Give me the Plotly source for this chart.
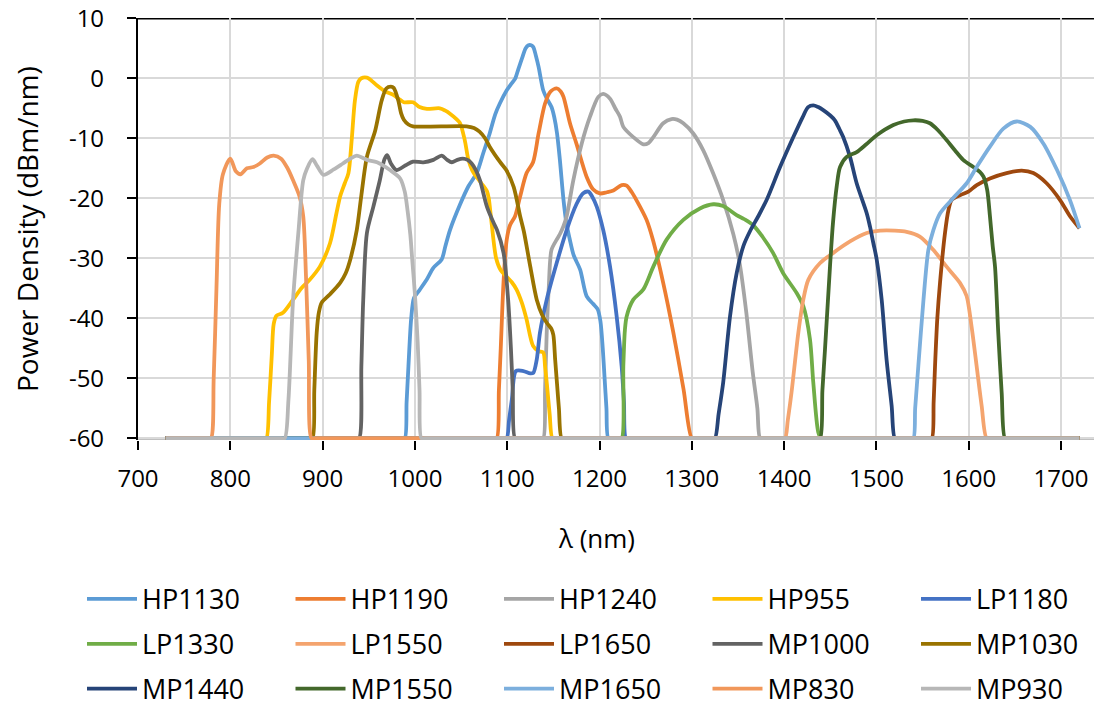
import plotly.graph_objects as go

names = ["HP1130", "HP1190", "HP1240", "HP955", "LP1180",
         "LP1330", "LP1550", "LP1650", "MP1000", "MP1030",
         "MP1440", "MP1550", "MP1650", "MP830", "MP930"]

colors = ["#5B9BD5", "#ED7D31", "#A5A5A5", "#FFC000", "#4472C4",
          "#70AD47", "#F4A46E", "#9E480E", "#636363", "#997300",
          "#264478", "#43682B", "#7CAFDD", "#F1975A", "#B7B7B7"]

# wavelength (nm) / power density (dBm/nm) per filter
hp1130_wl = [730, 985, 989, 991, 993, 996, 999, 1005, 1013, 1020, 1029, 1033, 1038, 1049, 1058, 1067, 1074, 1081, 1087, 1092,
             1099.5, 1104, 1108.5, 1112, 1116, 1120, 1123, 1126, 1128.3, 1131, 1134, 1139, 1143, 1148, 1151, 1154, 1157,
             1161, 1164, 1168, 1172, 1179, 1186, 1193, 1198, 1201, 1203.5, 1205.5, 1207.5, 1209.6, 1214, 1720]
hp1130_db = [-60, -60, -60, -54, -48, -40, -36.6, -35.3, -33.5, -31.6, -30.2, -28, -25.3, -21, -18, -15.8, -12.5, -9.2, -6, -4.2,
             -2.0, -1, -0.1, 1.5, 3.3, 5, 5.5, 5.5, 5.2, 3.8, 1.9, -2, -3.4, -4.8, -6.5, -9.2, -13.5,
             -20.3, -24, -27, -29.5, -31.9, -36.3, -37.6, -38.5, -40.5, -45, -50, -55, -60, -60, -60]

hp1190_wl = [730, 1084, 1088.6, 1091, 1093, 1096, 1099.4, 1103, 1108.5, 1114, 1121, 1128, 1134, 1141, 1147, 1153.6, 1158, 1161,
             1168, 1175, 1186, 1193, 1200.5, 1208, 1215, 1224, 1229.4, 1235, 1240, 1251, 1258, 1269, 1280, 1291, 1300, 1304, 1720]
hp1190_db = [-60, -60, -60, -52, -45, -34, -27, -24.5, -23, -19.7, -15.8, -14, -9.2, -4.2, -2.2, -1.7, -2.2, -3.1,
             -7.5, -10.9, -16.4, -18.5, -19.2, -19.0, -18.7, -17.8, -17.9, -19.0, -20.3, -23.6, -27, -34.1, -42.4, -51.8, -60, -60, -60]

hp1240_wl = [730, 1135, 1139, 1141, 1142.8, 1145, 1148, 1153.6, 1157, 1160.8, 1164.4, 1171.6, 1180.7, 1189.7, 1198.7, 1204,
             1211.4, 1217, 1222.2, 1225.8, 1236.6, 1247.5, 1253, 1258.3, 1269, 1278, 1284, 1290.8, 1301.6, 1312.4,
             1323, 1334, 1345, 1352, 1359, 1366, 1371, 1374, 1378, 1720]
hp1240_db = [-60, -60, -60, -52, -42.4, -35, -28.6, -26.9, -26, -24.7, -23, -17, -10.9, -6.4, -3.1, -2.6,
             -3.4, -5, -6.4, -8.1, -9.8, -11, -10.8, -9.8, -7.5, -6.8, -6.9, -7.5, -9.2, -12,
             -15.8, -20.3, -26, -31, -39, -49, -55, -60, -60, -60]

hp955_wl = [730, 835, 839, 842, 845, 847, 850, 857, 868, 877, 886, 897, 908, 915, 919, 924, 928, 931.5, 935, 938.7, 942, 948,
            953, 959, 968, 977, 984, 988, 998, 1005, 1013, 1027, 1033, 1038, 1045, 1049, 1054, 1058, 1062, 1067, 1072,
            1078, 1080, 1083, 1088, 1093, 1099, 1105, 1110, 1116, 1121, 1128, 1134, 1139, 1141, 1143, 1146, 1149, 1153, 1720]
hp955_db = [-60, -60, -60, -54, -46, -41, -39.6, -39.1, -36.9, -35, -33.6, -31.4, -27.5, -22.5, -19.7, -17.5, -15.8, -10.3, -3.7,
            -0.6, 0, 0.1, -0.4, -1.2, -2.2, -2.8, -3.6, -4.0, -4.0, -4.8, -5.1, -5.0, -5.4, -5.9, -6.8, -7.5, -10.3,
            -13.6, -15.3, -16.5, -17.5, -18.8, -20, -24, -30, -32, -33, -34, -35.2, -37.5, -40.2, -44.6, -45.5, -45.7,
            -48, -51, -56, -60, -60, -60]

lp1180_wl = [730, 1095, 1099.4, 1102, 1105, 1109.5, 1117.5, 1125, 1128.3, 1132, 1135.5, 1142.8, 1153.6, 1164.4, 1175, 1182,
             1188, 1192, 1197, 1204, 1211.4, 1218.6, 1224, 1226.5, 1228.7, 1233, 1720]
lp1180_db = [-60, -60, -60, -57, -53.6, -48.8, -48.8, -49.2, -49.1, -46.9, -42.4, -36.9, -30.8, -25.3, -21, -19.2,
             -18.9, -19.7, -21.4, -25.3, -31.4, -39.7, -48, -54, -60, -60, -60]

lp1330_wl = [730, 1220, 1224, 1225.8, 1227.5, 1229.4, 1236.6, 1247.5, 1258.3, 1272.7, 1290.8, 1308.8, 1323.3, 1334, 1348.5,
             1357, 1366.5, 1377, 1388, 1399, 1413.6, 1420.8, 1428, 1431.6, 1437, 1440, 1444, 1720]
lp1330_db = [-60, -60, -60, -48, -42, -39.7, -36.9, -35.2, -31.4, -26.9, -23.6, -21.7, -21, -21.3, -22.8,
             -23.5, -24.5, -26.5, -29.1, -32.5, -35.8, -38, -43.5, -50.7, -59, -60, -60, -60]

lp1550_wl = [730, 1397, 1401, 1404, 1408, 1415.4, 1420.8, 1426.2, 1439, 1453.3, 1471.4, 1489.5, 1504, 1520, 1532.7, 1547,
             1561.6, 1576, 1590.5, 1597.7, 1603, 1608.6, 1614, 1619.4, 1624, 1720]
lp1550_db = [-60, -60, -60, -57, -52.4, -42.4, -36.9, -33.6, -30.8, -29.1, -27.2, -25.8, -25.4, -25.4, -25.6, -26.4,
             -28.6, -31.4, -34.1, -36.3, -41.3, -48, -54.6, -60, -60, -60]

lp1650_wl = [730, 1556, 1560, 1562, 1563.5, 1566, 1568.9, 1574.3, 1578, 1581.5, 1590.5, 1599.6, 1608.7, 1623, 1641, 1657.4,
             1670, 1684.4, 1699, 1709.7, 1720]
lp1650_db = [-60, -60, -60, -54, -48, -40, -34.1, -25.8, -22, -20.3, -19.5, -18.9, -17.8, -16.7, -15.8, -15.4,
             -15.8, -17.5, -20.3, -23, -25]

mp1000_wl = [730, 935, 939.5, 942, 944, 948, 955, 962, 967, 970, 974, 980, 990, 998, 1009, 1020, 1029, 1035, 1040, 1046,
             1052, 1057, 1061.5, 1066, 1070.5, 1078, 1085, 1089, 1096, 1101, 1104, 1106, 1108.5, 1113, 1720]
mp1000_db = [-60, -60, -60, -48, -37, -25.8, -21.4, -17, -13.5, -12.8, -14.2, -15.3, -14.5, -13.9, -14, -13.6, -12.9, -13.6,
             -14, -13.6, -13.4, -13.6, -14.2, -15.3, -17, -21.4, -24, -25.3, -29.1, -36.9, -45, -52, -60, -60, -60]

mp1030_wl = [730, 885, 889, 891, 893.6, 896, 899, 908, 919, 925, 930, 937, 942, 948, 957, 964, 969, 974, 977, 982, 985, 988,
             993, 998, 1056, 1064, 1070, 1076, 1081, 1092, 1099, 1107, 1114, 1118, 1125, 1132, 1138, 1143, 1148, 1150,
             1152, 1154, 1156, 1159, 1163, 1720]
mp1030_db = [-60, -60, -60, -52, -42.4, -39, -37.4, -36, -34.1, -32.5, -30.2, -25.3, -19.5, -13.1, -8.7, -3.7, -1.7, -1.4,
             -1.6, -3.7, -5.8, -6.9, -7.7, -8.0, -8.0, -8.3, -8.9, -10, -11.4, -13.9, -15.3, -18.1, -23, -25.5, -31.4,
             -36.9, -39.5, -40.8, -41.8, -42.8, -47, -51, -55, -60, -60, -60]

mp1440_wl = [730, 1321, 1325, 1329, 1334, 1341.4, 1348.6, 1355.8, 1363, 1372, 1381, 1395.6, 1410, 1420, 1426, 1431.6, 1437,
             1442.4, 1450, 1455, 1460, 1464, 1471.4, 1478.6, 1489.5, 1493, 1496.7, 1500.3, 1505.7, 1511, 1516.5, 1520,
             1524, 1720]
mp1440_db = [-60, -60, -60, -56, -50.7, -39.7, -32.5, -28, -25.5, -23, -20.3, -14.8, -9.8, -6.5, -4.8, -4.5, -4.8,
             -5.3, -6.2, -7, -8.5, -9.8, -13.1, -17.5, -22.5, -24.7, -27.5, -30.2, -36.9, -46.9, -54.6, -60,
             -60, -60]

mp1550_wl = [730, 1435, 1439, 1441.5, 1444.3, 1449.7, 1453, 1457, 1460.6, 1467.8, 1478.6, 1489, 1500.3, 1518.3, 1530, 1540,
             1550, 1558, 1567, 1576, 1585, 1594, 1605, 1612, 1616, 1620, 1623, 1626, 1628.5, 1632, 1635.7, 1639.3, 1643, 1720]
mp1550_db = [-60, -60, -60, -52, -45.2, -31.4, -24, -18, -14.8, -13.1, -12.3, -11, -9.5, -7.8, -7.2, -7,
             -7.1, -7.5, -8.7, -10.3, -12, -13.6, -14.8, -15.6, -16.4, -18.6, -23, -28, -31.4, -42.4, -52.4, -60, -60, -60]

mp1650_wl = [730, 1536, 1540, 1542, 1545.4, 1551, 1556.3, 1561.7, 1569, 1583, 1597.8, 1608.6, 1623, 1637.5, 1652, 1666.7,
             1681, 1695.7, 1709.7, 1720]
mp1650_db = [-60, -60, -60, -55, -48, -36.9, -28.6, -25.3, -22.5, -20, -17.5, -14.8, -11.4, -8.4, -7.2, -8.1,
             -10.9, -15.3, -20.3, -25]

mp830_wl = [730, 775, 779, 782, 785, 788, 792, 800, 806, 811, 818, 825, 832, 840, 847, 855, 862, 868, 875, 879, 882, 885,
            888, 892, 1720]
mp830_db = [-60, -60, -60, -50, -35, -21, -16, -13.4, -15.5, -16, -15, -14.8, -14.2, -13.2, -12.9, -13.4, -15, -17, -19.7,
            -23, -33, -47, -60, -60, -60]

mp930_wl = [730, 855, 859, 863, 868, 873.7, 879, 882.7, 889, 894, 901, 912, 922, 930, 937, 948, 959, 973, 984, 989, 992,
            995, 997, 1000, 1003, 1005, 1007, 1011, 1720]
mp930_db = [-60, -60, -60, -53.6, -36.9, -25.8, -17, -15.2, -13.5, -14.6, -16.1, -15.2, -14.2, -13.4, -12.9, -13.6, -14,
            -15.3, -16.7, -18.9, -22, -26, -30, -36, -44, -52, -60, -60, -60]

series_wl = [hp1130_wl, hp1190_wl, hp1240_wl, hp955_wl, lp1180_wl, lp1330_wl, lp1550_wl, lp1650_wl,
             mp1000_wl, mp1030_wl, mp1440_wl, mp1550_wl, mp1650_wl, mp830_wl, mp930_wl]
series_db = [hp1130_db, hp1190_db, hp1240_db, hp955_db, lp1180_db, lp1330_db, lp1550_db, lp1650_db,
             mp1000_db, mp1030_db, mp1440_db, mp1550_db, mp1650_db, mp830_db, mp930_db]

x_ticks = list(range(700, 1800, 100))
y_ticks = list(range(-60, 20, 10))
y_floor, y_top = -60, 10

FONT = "Open Sans"
legend_ids = ["legend", "legend2", "legend3"]

# page has an 8px body margin: figure occupies 1094x696 from (8,8)
W, H = 1094, 696
ML, MT, MB = 130, 10, 264
PW, PH = W - ML, H - MT - MB

fig = go.Figure()
for i, (nm, col, wl, db) in enumerate(zip(names, colors, series_wl, series_db)):
    fig.add_trace(go.Scatter(
        x=wl, y=db, mode="lines", name=nm,
        line=dict(color=col, width=3.8, shape="spline", smoothing=0.8),
        legend=legend_ids[i // 5],
        legendwidth=(143.5 if i % 5 != 4 else 120),
        hoverinfo="skip",
    ))

row_y = [591.3, 636.3, 681.0]   # figure px (row centres)
plot_bottom = MT + PH
legend_common = dict(
    orientation="h", xref="paper", yref="paper",
    x=(74 - ML) / PW, xanchor="left", yanchor="middle",
    entrywidthmode="pixels", itemwidth=50,
    font=dict(family=FONT, size=27, color="#000000"),
    bgcolor="rgba(0,0,0,0)", borderwidth=0, valign="middle",
    traceorder="normal",
)
layout_legends = {}
for k, lid in enumerate(legend_ids):
    d = dict(legend_common)
    d["y"] = (plot_bottom - row_y[k]) / PH
    layout_legends[lid] = d

fig.update_layout(
    width=W, height=H,
    margin=dict(l=ML, r=0, t=MT, b=MB, autoexpand=False),
    paper_bgcolor="white", plot_bgcolor="white",
    font=dict(family=FONT, color="#000000"),
    showlegend=True,
    annotations=[
        dict(text="λ (nm)", xref="paper", yref="paper",
             x=(588 - ML) / PW, y=(plot_bottom - 530) / PH,
             xanchor="center", yanchor="middle", showarrow=False,
             font=dict(family=FONT, size=26, color="#000000")),
        dict(text="Power Density (dBm/nm)", xref="paper", yref="paper",
             x=(19 - ML) / PW, y=0.5, textangle=-90,
             xanchor="center", yanchor="middle", showarrow=False,
             font=dict(family=FONT, size=28, color="#000000")),
    ],
    shapes=[
        # horizontal axis line at the floor value (traces drawn over it)
        dict(type="line", xref="paper", yref="y", x0=0, x1=1, y0=y_floor, y1=y_floor,
             line=dict(color="#000000", width=2.2), layer="between"),
        # top border line
        dict(type="line", xref="paper", yref="y", x0=0, x1=1, y0=y_top, y1=y_top,
             line=dict(color="#000000", width=2.2), layer="between"),
    ],
    **layout_legends,
)

fig.update_xaxes(
    range=[700, 1744.4], tickvals=x_ticks, ticktext=[str(v) for v in x_ticks],
    showgrid=True, gridcolor="#D9D9D9", gridwidth=1.8,
    showline=False,
    ticks="outside", ticklen=9, tickwidth=2, tickcolor="#000000",
    tickfont=dict(family=FONT, size=24, color="#000000"),
    ticklabelstandoff=8,
    zeroline=False,
    automargin=False,
)
fig.update_yaxes(
    range=[-60.3, 10.05], tickvals=y_ticks, ticktext=[str(v) for v in y_ticks],
    showgrid=True, gridcolor="#D9D9D9", gridwidth=1.8,
    showline=True, linecolor="#000000", linewidth=2.2,
    ticks="outside", ticklen=9, tickwidth=2, tickcolor="#000000",
    tickfont=dict(family=FONT, size=24, color="#000000"),
    ticklabelstandoff=18, ticklabeloverflow="allow",
    zeroline=False,
    automargin=False,
)

fig.write_html("out.html")
